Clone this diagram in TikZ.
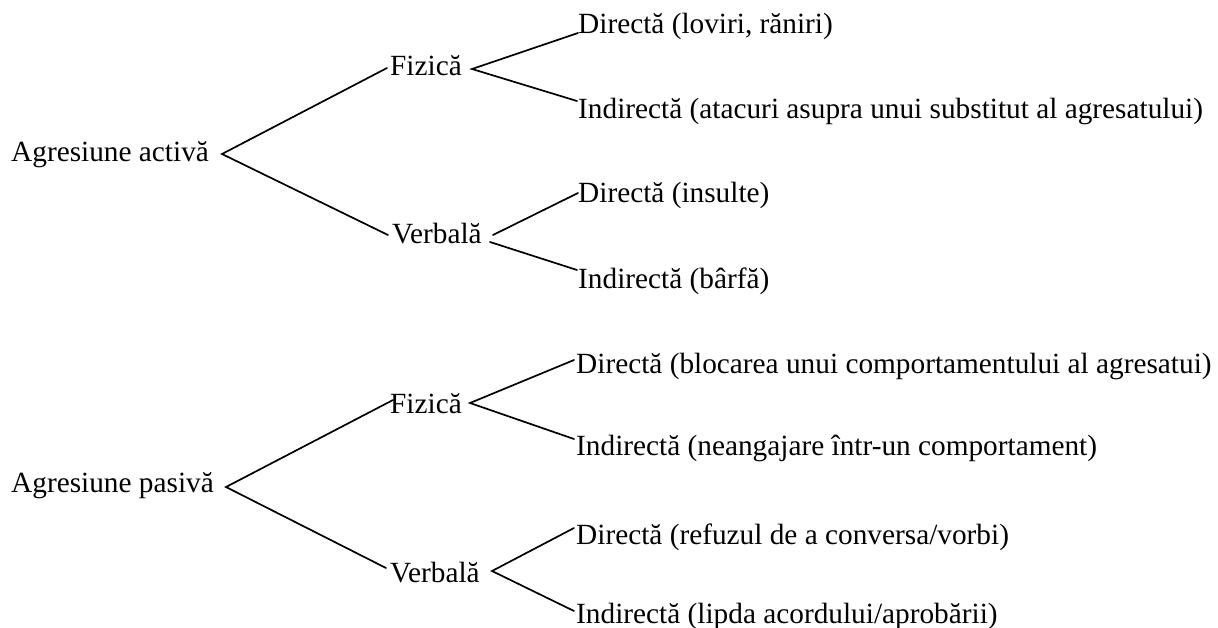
\documentclass[tikz,border=0pt]{standalone}
\usepackage{fontspec}
\setmainfont{Liberation Serif}
\begin{document}
\begin{tikzpicture}[x=1pt,y=-1pt,
  lbl/.style={anchor=base west,inner sep=0pt,font=\fontsize{29.3}{35}\selectfont},
  conn/.style={line width=1.7pt,line cap=round}]
\useasboundingbox (0,0) rectangle (1218,627);
% ---- top tree: Agresiune activa
\node[lbl] (a1) at (11,161) {Agresiune activă};
\node[lbl] (f1) at (390,75) {Fizică};
\node[lbl] (v1) at (392,243) {Verbală};
\node[lbl] (d1) at (578,33) {Directă (loviri, răniri)};
\node[lbl] (i1) at (578,118) {Indirectă (atacuri asupra unui substitut al agresatului)};
\node[lbl] (d2) at (578,202) {Directă (insulte)};
\node[lbl] (i2) at (578,288) {Indirectă (bârfă)};
\coordinate (a1v) at (222,154);
\coordinate (f1in) at (387,68);
\coordinate (v1in) at (388,235);
\coordinate (f1v) at (472,69);
\coordinate (d1in) at (578,33);
\coordinate (i1in) at (577,101);
\coordinate (v1va) at (493,235);
\coordinate (v1vb) at (490,242);
\coordinate (d2in) at (578,193);
\coordinate (i2in) at (577,270);
\draw[conn] (f1in) -- (a1v) -- (v1in);
\draw[conn] (d1in) -- (f1v) -- (i1in);
\draw[conn] (v1va) -- (d2in);
\draw[conn] (v1vb) -- (i2in);
% ---- bottom tree: Agresiune pasiva
\node[lbl] (a2) at (11,492) {Agresiune pasivă};
\node[lbl] (f2) at (390,413) {Fizică};
\node[lbl] (v2) at (390,582) {Verbală};
\node[lbl] (d3) at (576,373) {Directă (blocarea unui comportamentului al agresatui)};
\node[lbl] (i3) at (576,455) {Indirectă (neangajare într-un comportament)};
\node[lbl] (d4) at (576,544) {Directă (refuzul de a conversa/vorbi)};
\node[lbl] (i4) at (576,623) {Indirectă (lipda acordului/aprobării)};
\coordinate (a2v) at (226,487);
\coordinate (f2in) at (393,400);
\coordinate (v2in) at (386,568);
\coordinate (f2v) at (470,403);
\coordinate (d3in) at (574,360);
\coordinate (i3in) at (574,439);
\coordinate (v2v) at (492,571);
\coordinate (d4in) at (574,528);
\coordinate (i4in) at (574,611);
\draw[conn] (f2in) -- (a2v) -- (v2in);
\draw[conn] (d3in) -- (f2v) -- (i3in);
\draw[conn] (d4in) -- (v2v) -- (i4in);
\end{tikzpicture}
\end{document}
